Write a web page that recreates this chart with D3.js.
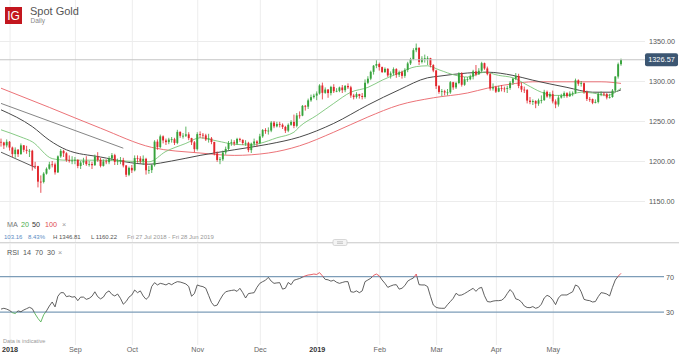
<!DOCTYPE html>
<html><head><meta charset="utf-8">
<script src="https://cdn.jsdelivr.net/npm/d3@7"></script>
<style>body{margin:0;background:#fff;}svg{display:block;font-family:"Liberation Sans",Arial,sans-serif;}</style>
</head><body><svg id="c" width="679" height="357"></svg>
<script>
// ---------- DATA ----------
const startDate = "2018-07-27";
const endDate = "2019-06-04";
const closedDays = ["2018-12-25","2019-01-01","2019-04-19","2019-04-22"];
const firstOpen = 1224;
const closes = [1223.2,1219.5,1224.0,
1216.8,1208.6,1214.1,1208.5,1219.6,1214.0,1212.7,1212.8,1193.9,1193.6,1174.2,1173.8,1184.2,1190.3,1195.8,1195.7,1185.8,1205.8,1212.6,1209.6,1201.2,1200.6,1200.6,
1201.5,1193.8,1198.1,1199.9,1196.1,1196.2,1194.7,1205.5,1201.3,1193.9,1199.5,1198.5,1203.2,1207.3,1198.9,1199.6,1201.2,1194.4,1182.8,1191.4,
1188.3,1203.7,1203.2,1199.7,1202.7,1188.4,1188.6,1194.8,1224.2,1217.4,1230.8,1225.7,1223.6,1226.8,1227.2,1222.6,1236.4,1231.5,1231.6,1233.3,1228.6,1223.3,1214.8,
1233.6,1232.8,1232.0,1226.9,1228.2,1223.8,1209.5,1201.3,1202.1,1210.7,1215.1,1222.4,1223.5,1221.8,1227.6,1226.4,1222.5,1222.7,1213.6,1221.7,1224.4,1222.2,
1230.8,1238.7,1237.3,1238.0,1248.0,1243.3,1246.3,1245.3,1242.6,1237.9,1245.2,1248.8,1243.9,1257.0,1256.7,1268.9,1267.9,1275.8,1279.8,1281.7,
1284.4,1294.4,1285.2,1289.3,1284.9,1292.6,1287.2,1287.7,1291.9,1288.5,1293.8,1292.1,1281.9,1279.9,1283.6,1281.3,1280.0,1297.8,1302.9,1311.5,1319.1,1321.2,
1317.4,1311.2,1315.2,1307.0,1309.5,1314.9,1307.8,1311.0,1306.4,1313.9,1322.0,1327.4,1338.5,1341.5,1323.9,1327.9,1328.5,1328.6,1319.9,1313.1,
1293.6,1286.3,1287.2,1285.7,1285.8,1298.5,1292.0,1297.5,1309.6,1295.3,1302.2,1302.2,1305.5,1312.0,1308.2,1312.8,1322.3,1315.7,1308.6,1290.6,1292.3,
1286.7,1291.1,1290.6,1290.2,1291.3,1297.8,1302.9,1306.3,1293.8,1289.2,1288.7,1275.5,1273.7,1275.0,1271.7,1275.9,1276.2,1286.4,1280.6,1283.6,
1274.5,1270.6,1279.3,1281.5,1284.8,1281.0,1284.3,1285.1,1300.9,1296.5,1297.3,1286.2,1277.6,1277.4,1272.7,1273.8,1283.8,1284.1,1283.7,1279.3,1280.0,1288.0,1305.6,
1321.0,1326.57];
const highs = [1228,1224,1227,
1225,1218,1217,1215,1222,1220,1219,1215,1214,1199,1194,1182,1186,1192,1199,1200,1198,1207,1215,1214,1211,1207,1206,
1205,1202,1200,1204,1206,1200,1199,1208,1211,1204,1202,1202,1206,1210,1209,1203,1205,1204,1195,1193,
1195,1207,1207,1206,1207,1204,1194,1196,1226,1227,1233,1232,1228,1229,1230,1229,1239,1237,1235,1243,1236,1229,1225,
1236,1237,1235,1234,1234,1230,1224,1212,1205,1213,1218,1225,1227,1226,1229,1229,1227,1226,1224,1223,1228,1226,
1234,1240,1241,1242,1250,1250,1249,1249,1247,1244,1247,1251,1258,1260,1262,1270,1270,1278,1283,1284,
1287,1296,1298,1292,1290,1294,1296,1291,1293,1295,1295,1297,1294,1284,1286,1284,1285,1302,1306,1313,1320,1326,
1323,1318,1317,1316,1312,1317,1316,1313,1313,1316,1324,1329,1341,1346.81,1342,1331,1333,1331,1329,1321,
1314,1295,1290,1289,1290,1300,1299,1299,1311,1311,1305,1305,1308,1314,1320,1316,1324,1323,1318,1310,1297,
1294,1294,1295,1293,1294,1300,1304,1310,1309,1298,1293,1290,1280,1277,1276,1278,1282,1289,1288,1286,
1288,1277,1282,1284,1287,1286,1287,1287,1303,1302,1300,1298,1288,1280,1278,1277,1286,1287,1286,1285,1284,1290,1306,
1323,1328];
const lows = [1218,1215,1217,
1213,1205,1204,1205,1208,1211,1209,1205,1188,1190,1167,1160.22,1172,1183,1189,1192,1183,1185,1204,1205,1199,1198,1196,
1196,1191,1190,1195,1194,1193,1190,1194,1199,1192,1193,1196,1196,1201,1195,1195,1196,1192,1180,1181,
1185,1187,1198,1197,1195,1183,1184,1185,1193,1214,1216,1222,1220,1221,1223,1220,1221,1229,1228,1230,1226,1220,1211,
1213,1229,1228,1225,1223,1221,1207,1199,1196,1200,1208,1213,1219,1219,1220,1224,1220,1219,1211,1210,1219,1218,
1221,1229,1234,1233,1236,1241,1242,1242,1240,1235,1236,1244,1241,1242,1253,1256,1263,1265,1274,1278,
1276,1283,1277,1284,1279,1282,1285,1286,1286,1285,1286,1290,1279,1277,1278,1278,1277,1278,1296,1301,1308,1316,
1313,1310,1310,1305,1303,1307,1304,1305,1303,1304,1311,1320,1326,1336,1320,1322,1323,1320,1317,1311,
1290,1284,1281,1282,1282,1284,1289,1290,1296,1293,1294,1299,1301,1302,1306,1308,1311,1314,1307,1288,1288,
1285,1286,1287,1286,1285,1289,1295,1301,1291,1286,1285,1272,1271,1270,1266,1269,1272,1275,1279,1278,
1272,1266,1268,1278,1279,1279,1280,1281,1284,1294,1293,1284,1275,1274,1271,1272,1272,1281,1281,1277,1278,1279,1287,
1303,1319];
// moving averages (candle index, value)
const ma20Idx = [0,7,11,18,23,35,52,58,65,70,76,82,88,91,97,103,105,111,117,123,129,134,140,146,150,154,160,164,170,175,180,185,190,194,199,204,208,213,218];
const ma20Val = [1239,1230,1224,1203,1201,1201,1199,1212,1222,1229,1225,1221,1220,1222,1229,1236,1243,1257,1272,1286,1292,1301,1310,1318,1319,1314,1307,1305,1311,1307,1304,1295,1286,1282,1282,1286,1285,1282,1291];
const ma50Idx = [0,11,17,23,35,52,60,70,82,94,105,117,129,140,150,154,164,171,180,187,199,208,215,218];
const ma50Val = [1264,1243,1226,1214,1205,1196,1200,1207,1214,1221,1230,1247,1270,1289,1304,1306,1310,1311,1307,1301,1292,1286,1286,1289];
const ma100Idx = [0,17,35,53,70,82,94,105,117,129,140,152,164,171,181,187,199,211,218];
const ma100Val = [1291,1267,1241,1217,1210,1207,1210,1219,1236,1255,1270,1279,1285,1291,1297,1299,1299,1299,1297];
// RSI(14), one value per candle
const rsi = [33.5,34.4,33.5,32,29.5,28.5,31.5,30.5,32.5,34,35.5,34,28,23,19,27,31.5,37,41.5,36,
48,52,52,47.5,48.3,47,47.5,43,47,47,44.5,45.6,48,53,47.5,45,47,52,54,50,
48.3,50.5,45.6,39,42,47,49.4,55,52,54,48.3,44.5,47.5,59,63.3,60.7,62.5,61.8,60.7,62.5,
61,63,64.4,64,63,61.8,59,48,51,60.7,59.5,58.8,57,49,41,37,38,44,49.4,53,
53.9,54.5,55,53.5,56.9,52,46,51,51.5,52,58,62.5,64.4,66,69.3,65,62.5,63,63.3,56,
57,63.5,61,66,67,68,69.5,71,71.9,72.3,73,72.5,74.6,71,67,66.5,65,66,63.7,62.5,
63.5,64.4,64.4,53.1,52.5,54,52,54,64.4,66.3,68.2,71.5,73,71,66.3,62.5,58,59.5,60.7,61,
56,57,60,65,67,68.5,73,61,60.7,60.7,58.8,48,38.1,35.5,34.6,34.4,34.4,38.5,42,45.6,
51.3,49,49.4,51,53,55,56.9,53.5,56.9,58,48.5,42,41.5,42.5,43,43,43.5,46,51,55.5,
52,45,44,41.5,37,35.3,35.1,36.3,34.4,35.5,39,46,49,47.5,43.8,38.5,46,49.4,49.4,49.4,
51.3,53,60.7,59,53,44.5,43.5,43,41.5,42,47.5,52,51.5,50.5,48.3,58,66.3,70.5,73.8];
// drawn trend lines (index, price)
const trendLines = [[0,1272,43,1216],[0,1211,12,1192]];
const priceTicks = [1150,1200,1250,1300,1350];
const rsiLevels = [70,30];
const monthStarts = ["2018-08-01","2018-09-03","2018-10-01","2018-11-01","2018-12-03","2019-01-02","2019-02-01","2019-03-01","2019-04-01","2019-05-01"];
const monthLabels = ["2018","Sep","Oct","Nov","Dec","2019","Feb","Mar","Apr","May"];
const lastPrice = 1326.57;

// ---------- BUILD ----------
const parse = d3.utcParse("%Y-%m-%d"), fmt = d3.utcFormat("%Y-%m-%d");
const dates = d3.utcDays(parse(startDate), d3.utcDay.offset(parse(endDate),1))
  .filter(d => d.getUTCDay()!==0 && d.getUTCDay()!==6 && !closedDays.includes(fmt(d)));
const N = closes.length;
const candles = closes.map((c,i)=>({i, o: i===0?firstOpen:closes[i-1], c, h: highs[i], l: lows[i]}));
const monthIdx = monthStarts.map(s => dates.findIndex(d => fmt(d)===s));

const svg = d3.select("#c");
const x = d3.scaleLinear().domain([0, N-1]).range([1, 621]);
const y = d3.scaleLinear().domain([1150,1350]).range([201,41]);
const yR = d3.scaleLinear().domain([30,70]).range([312.2,276.7]);
const GREEN="#37a33c", RED="#e1262c";

// vertical grid
const vg = svg.append("g").attr("transform","translate(0,345)")
  .call(d3.axisBottom(x).tickValues(monthIdx).tickSize(-345).tickFormat(""));
vg.select(".domain").remove();
vg.selectAll("line").attr("stroke","#ededed");

// price axis + horizontal grid
const pa = svg.append("g").attr("transform","translate(645,0)")
  .call(d3.axisRight(y).tickValues(priceTicks).tickFormat(d3.format(".2f")).tickSize(-645).tickPadding(4));
pa.select(".domain").remove();
pa.selectAll("line").attr("stroke","#ececec");
pa.selectAll("text").attr("fill","#555").attr("font-size","7.2px").attr("font-family","Liberation Sans, Arial");

// x axis labels
const xa = svg.append("g").attr("transform","translate(0,347)")
  .call(d3.axisBottom(x).tickValues(monthIdx).tickSize(0).tickPadding(0).tickFormat((d,i)=>monthLabels[i]));
xa.select(".domain").remove();
xa.selectAll("text").attr("font-size","7.2px").attr("font-family","Liberation Sans, Arial")
  .attr("fill",(d,i)=>/^\d{4}$/.test(monthLabels[i])?"#333":"#666")
  .attr("font-weight",(d,i)=>/^\d{4}$/.test(monthLabels[i])?"bold":"normal");

// MA lines
const maLine = d3.line().x(d=>x(d[0])).y(d=>y(d[1])).curve(d3.curveMonotoneX);
[[ma100Idx,ma100Val,"#ec7378",1],[ma50Idx,ma50Val,"#4a4a4a",1],[ma20Idx,ma20Val,"#79c477",0.9]].forEach(([ix,v,col,w])=>{
  svg.append("path").datum(ix.map((k,j)=>[k,v[j]])).attr("d",maLine)
    .attr("fill","none").attr("stroke",col).attr("stroke-width",w);
});
// trend lines
svg.append("g").selectAll("line").data(trendLines).join("line")
  .attr("x1",d=>x(d[0])).attr("y1",d=>y(d[1])).attr("x2",d=>x(d[2])).attr("y2",d=>y(d[3]))
  .attr("stroke",(d,i)=>i===0?"#777":"#4a4a4a").attr("stroke-width",0.9);

// candles
const cg = svg.append("g");
cg.selectAll("line").data(candles).join("line")
  .attr("x1",d=>x(d.i)).attr("x2",d=>x(d.i)).attr("y1",d=>y(d.h)).attr("y2",d=>y(d.l))
  .attr("stroke",d=>d.c>=d.o?GREEN:RED).attr("stroke-width",0.8);
cg.selectAll("rect").data(candles).join("rect")
  .attr("x",d=>x(d.i)-0.95).attr("width",1.9)
  .attr("y",d=>y(Math.max(d.o,d.c))).attr("height",d=>Math.max(0.8,Math.abs(y(d.o)-y(d.c))))
  .attr("fill",d=>d.c>=d.o?GREEN:RED);

// last price line + tag
svg.append("line").attr("x1",0).attr("x2",645).attr("y1",y(lastPrice)).attr("y2",y(lastPrice))
  .attr("stroke","#c4c4c4").attr("stroke-width",1.2);
svg.append("rect").attr("x",645).attr("y",y(lastPrice)-6.5).attr("width",33).attr("height",13).attr("rx",2).attr("fill","#3c5672");
svg.append("text").attr("x",661.5).attr("y",y(lastPrice)+2.6).attr("text-anchor","middle")
  .attr("fill","#fff").attr("font-size","7.4px").text(d3.format(".2f")(lastPrice));

// header
svg.append("rect").attr("x",5).attr("y",7).attr("width",17).attr("height",17).attr("fill","#c3161e");
svg.append("text").attr("x",13.5).attr("y",20.2).attr("text-anchor","middle").attr("fill","#fff")
  .attr("font-size","12px").text("IG");
svg.append("text").attr("x",30).attr("y",14.5).attr("fill","#555").attr("font-size","11px").text("Spot Gold");
svg.append("text").attr("x",30.5).attr("y",22.5).attr("fill","#888").attr("font-size","6.5px").text("Daily");

// MA legend
const leg = [["MA",7,"#777"],["20",21,"#4cae4c"],["50",32,"#333"],["100",45,"#e04a50"],["×",62,"#999"]];
svg.append("g").selectAll("text").data(leg).join("text")
  .attr("x",d=>d[1]).attr("y",227).attr("fill",d=>d[2]).attr("font-size","7.2px").text(d=>d[0]);
const stats = [["103.16",4,"#5a8cc4"],["8.43%",28,"#5a8cc4"],["H 1346.81",53,"#555"],["L 1160.22",91,"#555"],["Fri 27 Jul 2018 - Fri 28 Jun 2019",127,"#999"]];
svg.append("g").selectAll("text").data(stats).join("text")
  .attr("x",d=>d[1]).attr("y",238.5).attr("fill",d=>d[2]).attr("font-size","6px").text(d=>d[0]);

// separator
svg.append("line").attr("x1",0).attr("x2",679).attr("y1",242.5).attr("y2",242.5).attr("stroke","#d6d6d6").attr("stroke-width",1);
svg.append("line").attr("x1",0).attr("x2",679).attr("y1",243.5).attr("y2",243.5).attr("stroke","#f0f0f0").attr("stroke-width",1);
svg.append("rect").attr("x",333).attr("y",239.5).attr("width",14).attr("height",6).attr("rx",1.5).attr("fill","#f4f4f4").attr("stroke","#c8c8c8").attr("stroke-width",0.7);
svg.append("line").attr("x1",337).attr("x2",343).attr("y1",241.8).attr("y2",241.8).attr("stroke","#aaa").attr("stroke-width",0.6);
svg.append("line").attr("x1",337).attr("x2",343).attr("y1",243.4).attr("y2",243.4).attr("stroke","#aaa").attr("stroke-width",0.6);

// RSI legend
const rleg = [["RSI",7],["14",23],["70",35],["30",47],["×",58]];
svg.append("g").selectAll("text").data(rleg).join("text")
  .attr("x",d=>d[1]).attr("y",255).attr("fill",(d,i)=>i===4?"#999":"#555").attr("font-size","7.2px").text(d=>d[0]);

// RSI levels
svg.append("g").selectAll("line").data(rsiLevels).join("line")
  .attr("x1",0).attr("x2",664).attr("y1",d=>yR(d)).attr("y2",d=>yR(d))
  .attr("stroke","#7d9db8").attr("stroke-width",1.3);
const ra = svg.append("g").attr("transform","translate(664,0)")
  .call(d3.axisRight(yR).tickValues(rsiLevels).tickSize(0).tickPadding(2));
ra.select(".domain").remove();
ra.selectAll("text").attr("fill","#555").attr("font-size","7.2px").attr("font-family","Liberation Sans, Arial");

// RSI line with colored extremes
const defs = svg.append("defs");
defs.append("clipPath").attr("id","cMid").append("rect").attr("x",0).attr("width",679).attr("y",yR(70)).attr("height",yR(30)-yR(70));
defs.append("clipPath").attr("id","cHi").append("rect").attr("x",0).attr("width",679).attr("y",240).attr("height",yR(70)-240);
defs.append("clipPath").attr("id","cLo").append("rect").attr("x",0).attr("width",679).attr("y",yR(30)).attr("height",40);
const rLine = d3.line().x((d,i)=>x(i)).y(d=>yR(d));
[["cMid","#444"],["cHi","#e4454b"],["cLo","#4cae4c"]].forEach(([cp,col])=>{
  svg.append("path").datum(rsi).attr("d",rLine).attr("fill","none").attr("stroke",col)
    .attr("stroke-width",0.85).attr("clip-path",`url(#${cp})`);
});

svg.append("text").attr("x",3).attr("y",343).attr("fill","#999").attr("font-size","5.6px").text("Data is indicative");
</script></body></html>
